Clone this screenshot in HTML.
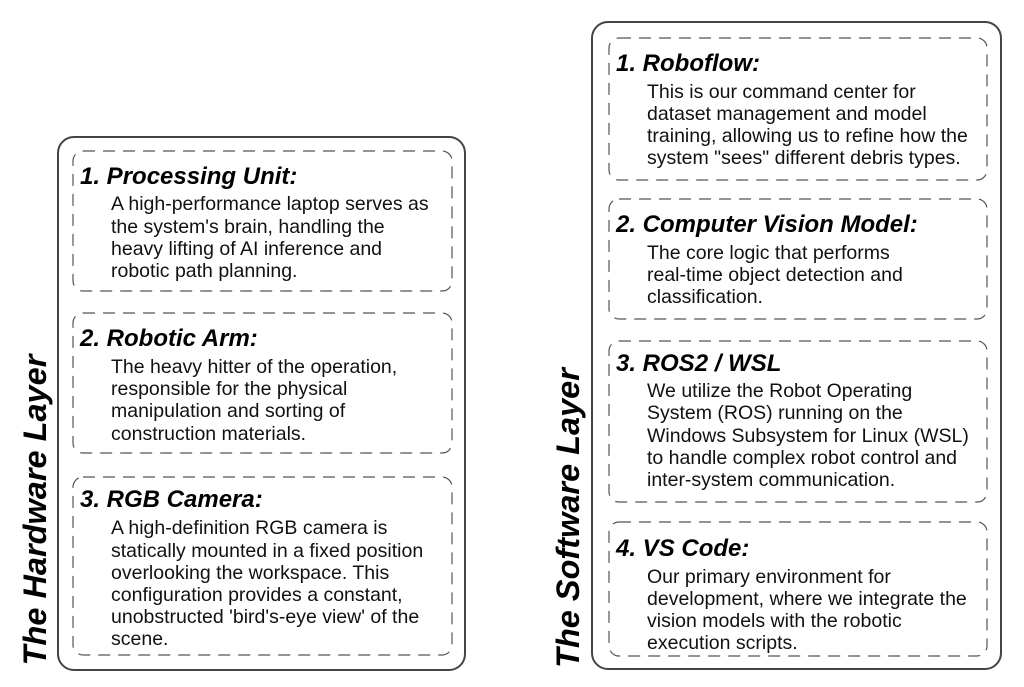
<!DOCTYPE html>
<html><head><meta charset="utf-8"><style>
html,body{margin:0;padding:0;background:#fff;}
svg{display:block;font-family:"Liberation Sans",Arial,sans-serif;}
.t{font-size:24px;font-weight:bold;font-style:italic;fill:#000;}
.b{font-size:19.5px;fill:#111;}
.v{font-size:32.5px;font-weight:bold;font-style:italic;fill:#000;}
.o{fill:none;stroke:#444;stroke-width:2;}
.d{fill:none;stroke:#555;stroke-width:1.2;stroke-dasharray:12,8;}
</style></head><body>
<svg width="1024" height="687" viewBox="0 0 1024 687">
<rect class="o" x="58" y="137" width="407" height="533" rx="16"/>
<rect class="d" x="73" y="151" width="379" height="140" rx="10"/>
<rect class="d" x="73" y="313" width="379" height="140" rx="10"/>
<rect class="d" x="73" y="477" width="379" height="178" rx="10"/>
<text class="t" x="80" y="184">1. Processing Unit:</text>
<text class="b" x="111" y="210">A high-performance laptop serves as</text>
<text class="b" x="111" y="233">the system's brain, handling the</text>
<text class="b" x="111" y="255">heavy lifting of AI inference and</text>
<text class="b" x="111" y="277">robotic path planning.</text>
<text class="t" x="80" y="346">2. Robotic Arm:</text>
<text class="b" x="111" y="373">The heavy hitter of the operation,</text>
<text class="b" x="111" y="395">responsible for the physical</text>
<text class="b" x="111" y="417">manipulation and sorting of</text>
<text class="b" x="111" y="440">construction materials.</text>
<text class="t" x="80" y="507">3. RGB Camera:</text>
<text class="b" x="111" y="534">A high-definition RGB camera is</text>
<text class="b" x="111" y="557">statically mounted in a fixed position</text>
<text class="b" x="111" y="579">overlooking the workspace. This</text>
<text class="b" x="111" y="601">configuration provides a constant,</text>
<text class="b" x="111" y="623">unobstructed 'bird's-eye view' of the</text>
<text class="b" x="111" y="645">scene.</text>
<text class="v" transform="translate(46,510) rotate(-90)" text-anchor="middle">The Hardware Layer</text>

<rect class="o" x="592" y="22" width="409" height="647" rx="16"/>
<rect class="d" x="609" y="38" width="378" height="142" rx="10"/>
<rect class="d" x="609" y="199" width="378" height="120" rx="10"/>
<rect class="d" x="609" y="341" width="378" height="161" rx="10"/>
<rect class="d" x="609" y="522" width="378" height="134" rx="10"/>
<text class="t" x="616" y="71">1. Roboflow:</text>
<text class="b" x="647" y="98">This is our command center for</text>
<text class="b" x="647" y="120">dataset management and model</text>
<text class="b" x="647" y="142">training, allowing us to refine how the</text>
<text class="b" x="647" y="164">system "sees" different debris types.</text>
<text class="t" x="616" y="232">2. Computer Vision Model:</text>
<text class="b" x="647" y="259">The core logic that performs</text>
<text class="b" x="647" y="281">real-time object detection and</text>
<text class="b" x="647" y="303">classification.</text>
<text class="t" x="616" y="371">3. ROS2 / WSL</text>
<text class="b" x="647" y="397">We utilize the Robot Operating</text>
<text class="b" x="647" y="419">System (ROS) running on the</text>
<text class="b" x="647" y="442">Windows Subsystem for Linux (WSL)</text>
<text class="b" x="647" y="464">to handle complex robot control and</text>
<text class="b" x="647" y="486">inter-system communication.</text>
<text class="t" x="616" y="556">4. VS Code:</text>
<text class="b" x="647" y="583">Our primary environment for</text>
<text class="b" x="647" y="605">development, where we integrate the</text>
<text class="b" x="647" y="627">vision models with the robotic</text>
<text class="b" x="647" y="649">execution scripts.</text>
<text class="v" transform="translate(579,518) rotate(-90)" text-anchor="middle">The Software Layer</text>
</svg>
</body></html>
